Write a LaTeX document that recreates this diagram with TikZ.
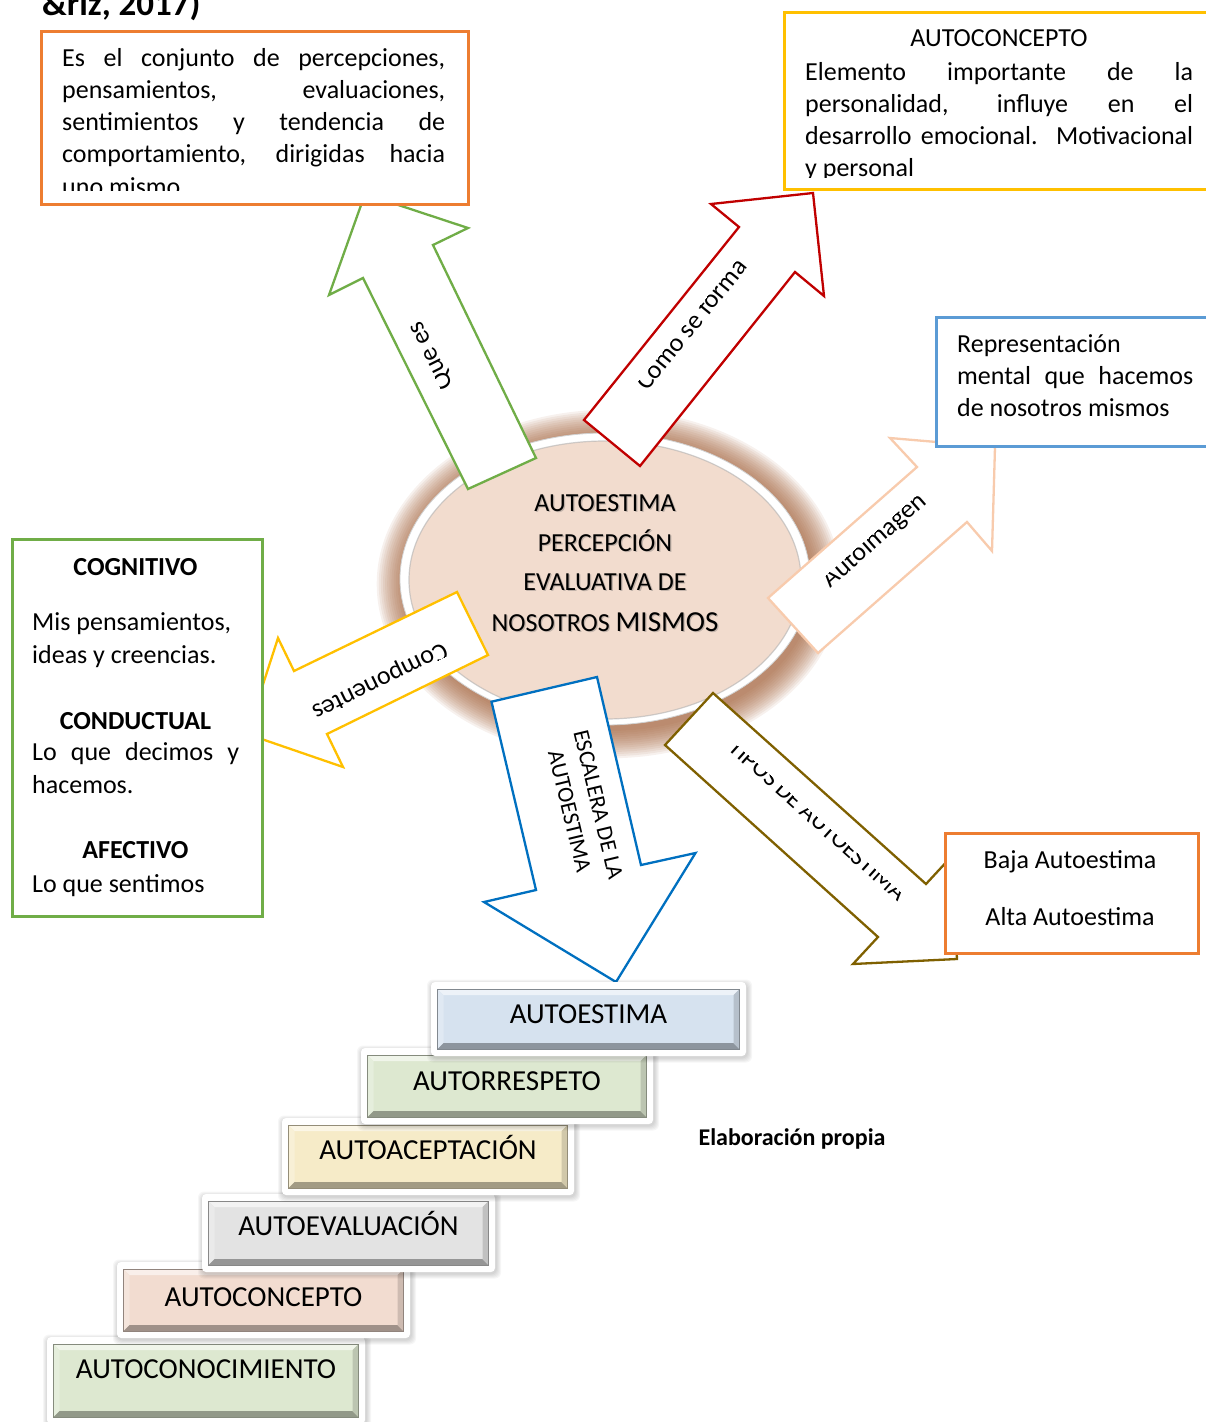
\documentclass[tikz,border=0pt]{standalone}
\usepackage{fontspec}
\setmainfont{Carlito}

\definecolor{cOrange}{HTML}{ED7D31}
\definecolor{cGold}{HTML}{FFC000}
\definecolor{cGreen}{HTML}{70AD47}
\definecolor{cRed}{HTML}{C00000}
\definecolor{cBlueBox}{HTML}{5B9BD5}
\definecolor{cBlueArrow}{HTML}{0070C0}
\definecolor{cPeachLine}{HTML}{F8CBAD}
\definecolor{cOlive}{HTML}{7F6000}
\definecolor{cGlow}{HTML}{A05E36}
\definecolor{cPeach}{HTML}{F2DCCE}
\definecolor{stBlue}{HTML}{D6E2EF}
\definecolor{stGreen}{HTML}{DDE8D0}
\definecolor{stYellow}{HTML}{F6EBC8}
\definecolor{stGray}{HTML}{E3E3E3}
\definecolor{stPeach}{HTML}{F2DCD0}

% rotated label inside a block arrow, cut off above #4 (text frame)
\newcommand\armlabel[6]{%
  \begin{scope}[shift={#2},rotate=#3]
    \clip (-160pt,-12pt) rectangle (160pt,#4);
    \node[anchor=base,inner sep=0pt,transform shape,font=#5] (#1) at (0pt,0pt) {#6};
  \end{scope}}

% one bevelled step of the staircase: frame corners (#2,#3)-(#4,#5)
\newcommand\stairstep[8]{%
  \pgfmathsetmacro\sA{#2+6.5}\pgfmathsetmacro\sB{#3+7}%
  \pgfmathsetmacro\sC{#4-6.5}\pgfmathsetmacro\sD{#5-7}%
  \pgfmathsetmacro\sE{\sA+6}\pgfmathsetmacro\sF{\sB+6}%
  \pgfmathsetmacro\sG{\sC-6}\pgfmathsetmacro\sH{\sD-6}%
  \foreach \k in {1,...,5}{\fill[black,opacity=0.035,rounded corners=6pt]
    ({#2-\k+1},{#3-\k+2.5}) rectangle ({#4+\k+1},{#5+\k+1.5});}
  \fill[white,rounded corners=4pt] (#2,#3) rectangle (#4,#5);
  \fill[#6] (\sA,\sB) rectangle (\sC,\sD);
  \fill[#6!45!white] (\sA,\sB) -- (\sC,\sB) -- (\sG,\sF) -- (\sE,\sF) -- cycle;
  \fill[#6!75!white] (\sA,\sB) -- (\sE,\sF) -- (\sE,\sH) -- (\sA,\sD) -- cycle;
  \fill[#6!66!black] (\sA,\sD) -- (\sE,\sH) -- (\sG,\sH) -- (\sC,\sD) -- cycle;
  \fill[#6!85!black] (\sC,\sB) -- (\sC,\sD) -- (\sG,\sH) -- (\sG,\sF) -- cycle;
  \draw[#6!60!black,line width=.5pt] (\sA,\sB) rectangle (\sC,\sD);
  \node[stairtext] (#1) at ({(#2+#4)/2},#8) {#7};}

% one line of the central ellipse, with its soft shadow
\newcommand\elline[3]{%
  \node[elltext,text=black!60,opacity=.35] (#1s) at (606.3,{#2+1.3}) {#3};
  \node[elltext] (#1) at (605,#2) {#3};}

\begin{document}
\begin{tikzpicture}[x=1pt,y=-1pt,
  blockarrow/.style={fill=white,line width=2.3pt,line join=miter},
  infobox/.style={draw,fill=white,line width=2.5pt,inner sep=0pt,anchor=north west},
  body/.style={inner sep=0pt,font=\fontsize{26}{32.3}\selectfont},
  bodyhead/.style={inner sep=0pt,anchor=base,font=\bfseries\fontsize{26}{32.3}\selectfont},
  elltext/.style={inner sep=0pt,anchor=base,font=\fontsize{26}{32}\selectfont},
  stairtext/.style={inner sep=0pt,anchor=base,font=\fontsize{29}{34}\selectfont},
]
\useasboundingbox (0,0) rectangle (1206,1422);
\clip (0,0) rectangle (1206,1422);

% ---------- central ellipse with brown glow ----------
\foreach \k in {0,...,13}{
  \fill[cGlow,opacity=0.085] (609,584) ellipse [x radius={205+2.1*\k}, y radius={147+2.1*\k}];}
\fill[white] (605,579) ellipse [x radius=205, y radius=146];
\draw[black!18,line width=.8pt] (605,579) ellipse [x radius=205, y radius=146];
\fill[cPeach] (605,580) ellipse [x radius=196, y radius=139];
\draw[black!30,line width=1.2pt,opacity=.6] (605,580) ellipse [x radius=196, y radius=139];
\elline{ell1}{511}{AUTOESTIMA}
\elline{ell2}{551}{PERCEPCIÓN}
\elline{ell3}{590}{EVALUATIVA DE}
\elline{ell4}{631}{NOSOTROS {\fontsize{29}{34}\selectfont MISMOS}}

% ---------- block arrows ----------
\draw[blockarrow,draw=cGreen] (468,489) -- (363,278) -- (329,295) -- (365,194)
  -- (468,228) -- (433,245) -- (536,458) -- cycle;
\draw[blockarrow,draw=cRed] (584,420) -- (739,227) -- (711,204) -- (813,193)
  -- (824,296) -- (795,272) -- (640,466) -- cycle;
\draw[blockarrow,draw=cGold] (457,592) -- (294,671) -- (278,638) -- (247,734)
  -- (343,767) -- (327,734) -- (488,655) -- cycle;
\draw[blockarrow,draw=cPeachLine] (768,598) -- (917,467) -- (890,438) -- (995,447)
  -- (992,551) -- (967,522) -- (818,653) -- cycle;
\draw[blockarrow,draw=cBlueArrow] (491.5,701.7) -- (536,890) -- (484,902) -- (616,982)
  -- (695.5,853) -- (641,865) -- (597,677) -- cycle;
\draw[blockarrow,draw=cOlive] (713,693) -- (926,884) -- (951,857) -- (957,959)
  -- (853,964) -- (878,937) -- (665,745) -- cycle;

\armlabel{queEs}{(437.5,352.8)}{116.5}{13.5pt}{\fontsize{26}{31}\selectfont}{Que es}
\armlabel{comoForma}{(697.5,329.5)}{51}{13.5pt}{\fontsize{26}{31}\selectfont}{Como se forma}
\armlabel{componentes}{(376.8,675)}{206}{13.5pt}{\fontsize{26}{31}\selectfont}{Componentes}
\armlabel{autoimagen}{(879.3,545.8)}{41.3}{13.5pt}{\fontsize{26}{31}\selectfont}{Autoimagen}
\armlabel{tipos}{(812.5,825.8)}{-41.9}{9.5pt}{\fontsize{24.5}{29}\selectfont}{TIPOS DE AUTOESTIMA}
\node[rotate=-76.5,align=center,inner sep=0pt,font=\fontsize{23}{29.5}\selectfont]
  (escalera) at (584,808) {ESCALERA DE LA\\AUTOESTIMA};

% ---------- text boxes ----------
\node[infobox,draw=cOrange,minimum width=427pt,minimum height=173pt] (defbox) at (40,30) {};
\begin{scope}
  \clip (40,30) rectangle (467,190.7);
  \node[body,anchor=base west] (deftext) at (62,66) {\parbox[t]{383pt}{\fontsize{26}{32.3}\selectfont
    \makebox[383pt][s]{Es el conjunto de percepciones,}\\
    \makebox[383pt][s]{pensamientos, evaluaciones,}\\
    \makebox[383pt][s]{sentimientos y tendencia de}\\
    \makebox[383pt][s]{comportamiento, dirigidas hacia}\\
    uno mismo}};
\end{scope}

\node[infobox,draw=cGold,minimum width=432pt,minimum height=177pt] (conbox) at (783,11) {};
\node[body,anchor=base] (contitle) at (999,46) {AUTOCONCEPTO};
\begin{scope}
  \clip (783,11) rectangle (1206,177);
  \node[body,anchor=base west] (context) at (805,80) {\parbox[t]{388pt}{\fontsize{26}{32.3}\selectfont
    \makebox[388pt][s]{Elemento importante de la}\\
    \makebox[388pt][s]{personalidad, influye en el}\\
    \makebox[388pt][s]{desarrollo emocional. Motivacional}\\
    y personal}};
\end{scope}

\node[infobox,draw=cBlueBox,minimum width=282pt,minimum height=129pt] (imgbox) at (935,316) {};
\node[body,anchor=base west] (imgtext) at (957,352) {\parbox[t]{236pt}{\fontsize{26}{32.3}\selectfont
    Representación\\
    \makebox[236pt][s]{mental que hacemos}\\
    de nosotros mismos}};

\node[infobox,draw=cGreen,minimum width=250pt,minimum height=377pt] (compbox) at (11,538) {};
\node[bodyhead] (cog) at (135.5,575) {COGNITIVO};
\node[body,anchor=base west] (cog1) at (32,630) {Mis pensamientos,};
\node[body,anchor=base west] (cog2) at (32,663) {ideas y creencias.};
\node[bodyhead] (con) at (135.5,729) {CONDUCTUAL};
\node[body,anchor=base west] (con1) at (32,760) {\makebox[207pt][s]{Lo que decimos y}};
\node[body,anchor=base west] (con2) at (32,793) {hacemos.};
\node[bodyhead] (afe) at (135.5,858) {AFECTIVO};
\node[body,anchor=base west] (afe1) at (32,892) {Lo que sentimos};

\node[infobox,draw=cOrange,minimum width=253pt,minimum height=120pt] (tipbox) at (944,832) {};
\node[body,anchor=base] (baja) at (1070,868) {Baja Autoestima};
\node[body,anchor=base] (alta) at (1070,925) {Alta Autoestima};

% ---------- staircase ----------
\stairstep{st6}{47}{1337}{365}{1424}{stGreen}{AUTOCONOCIMIENTO}{1378}
\stairstep{st5}{117}{1262}{410}{1338}{stPeach}{AUTOCONCEPTO}{1306}
\stairstep{st4}{202}{1194}{495}{1272}{stGray}{AUTOEVALUACIÓN}{1235}
\stairstep{st3}{282}{1118}{574}{1195}{stYellow}{AUTOACEPTACIÓN}{1159}
\stairstep{st2}{361}{1048}{653}{1124}{stGreen}{AUTORRESPETO}{1090}
\stairstep{st1}{431}{982}{746}{1056}{stBlue}{AUTOESTIMA}{1023}

% ---------- captions ----------
\node[inner sep=0pt,anchor=base,font=\bfseries\fontsize{24}{28}\selectfont] (source) at (792,1145) {Elaboración propia};
\node[inner sep=0pt,anchor=base west,font=\bfseries\fontsize{35}{40}\selectfont] (cite) at (42,15) {\&riz, 2017)};
\end{tikzpicture}
\end{document}
